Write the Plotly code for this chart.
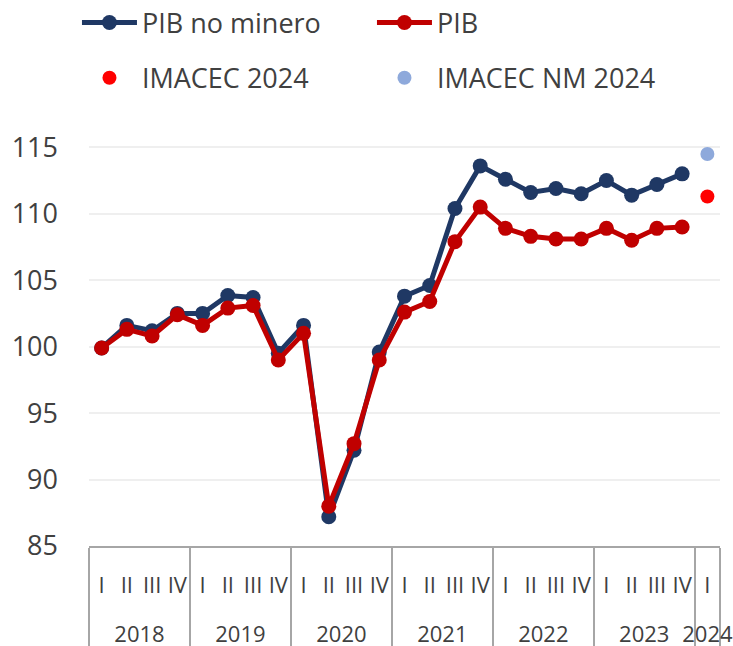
import plotly.graph_objects as go

# quarterly index, 2018 I = 100
years = ["2018"] * 4 + ["2019"] * 4 + ["2020"] * 4 + ["2021"] * 4 + ["2022"] * 4 + ["2023"] * 4
quarters = ["I", "II", "III", "IV"] * 6

pib_no_minero = [99.9, 101.6, 101.2, 102.5, 102.5, 103.85, 103.7, 99.5,
                 101.6, 87.2, 92.2, 99.6, 103.8, 104.6, 110.4, 113.6,
                 112.6, 111.6, 111.9, 111.5, 112.5, 111.4, 112.2, 113.0]
pib = [99.9, 101.3, 100.8, 102.4, 101.6, 102.9, 103.1, 99.0,
       101.0, 88.0, 92.7, 99.0, 102.6, 103.4, 107.9, 110.5,
       108.9, 108.3, 108.1, 108.1, 108.9, 108.0, 108.9, 109.0]

year_2024 = ["2024"]
quarter_2024 = ["I"]
imacec_2024 = [111.3]
imacec_nm_2024 = [114.5]

FONT = "Open Sans"
TEXT = "#404040"
NAVY = "#1F3864"
RED = "#C00000"

# invisible tall second line under each quarter label, so the year row sits lower
SPACER = "<br><span style='font-size:45px'>\u00a0</span>"
q_labels = [q + SPACER for q in quarters]
q_2024 = [q + SPACER for q in quarter_2024]

fig = go.Figure()

fig.add_trace(go.Scatter(
    x=[years, q_labels], y=pib_no_minero, name="PIB no minero",
    mode="lines+markers", line=dict(color=NAVY, width=5),
    marker=dict(color=NAVY, size=15), legend="legend"
))
fig.add_trace(go.Scatter(
    x=[years, q_labels], y=pib, name="PIB",
    mode="lines+markers", line=dict(color=RED, width=5),
    marker=dict(color=RED, size=15), legend="legend"
))
fig.add_trace(go.Scatter(
    x=[year_2024, q_2024], y=imacec_2024, name="IMACEC 2024",
    mode="markers", marker=dict(color="#FF0000", size=14), legend="legend2"
))
fig.add_trace(go.Scatter(
    x=[year_2024, q_2024], y=imacec_nm_2024, name="IMACEC NM 2024",
    mode="markers", marker=dict(color="#8EA9DB", size=14), legend="legend2"
))

legend_style = dict(
    orientation="h", entrywidth=225, entrywidthmode="pixels", itemwidth=55,
    font=dict(family=FONT, size=27, color=TEXT),
    bgcolor="rgba(0,0,0,0)", xref="container", yref="container",
    xanchor="left", yanchor="middle",
    itemclick=False, itemdoubleclick=False,
)

fig.update_layout(
    width=733, height=646,
    margin=dict(l=89, r=13, t=134, b=100, autoexpand=False),
    plot_bgcolor="white", paper_bgcolor="white",
    font=dict(family=FONT, size=22, color=TEXT),
    showlegend=True,
    legend=dict(x=0.105, y=0.9644, **legend_style),
    legend2=dict(x=0.105, y=0.879, **legend_style),
    xaxis=dict(
        type="multicategory", range=[-0.5, 24.5], automargin=False,
        tickmode="linear", tick0=0, dtick=1, tickangle=0,
        showline=True, linecolor="#A6A6A6", linewidth=1.5,
        showgrid=False, ticks="", ticklabelstandoff=19,
        showdividers=True, dividercolor="#A6A6A6", dividerwidth=1.5,
        tickfont=dict(family=FONT, size=22, color=TEXT),
    ),
    yaxis=dict(
        range=[85, 116], dtick=5, tick0=85, automargin=False,
        showgrid=True, gridcolor="#EFEFEF", gridwidth=1.5,
        zeroline=False, showline=False,
        ticklabelstandoff=30,
        tickfont=dict(family=FONT, size=27, color=TEXT),
    ),
)

# drop the default 8px body margin so the figure sits at the window corner
fig.write_html(
    "out.html",
    config={"displayModeBar": False},
    post_script="document.body.style.margin='0';",
)
